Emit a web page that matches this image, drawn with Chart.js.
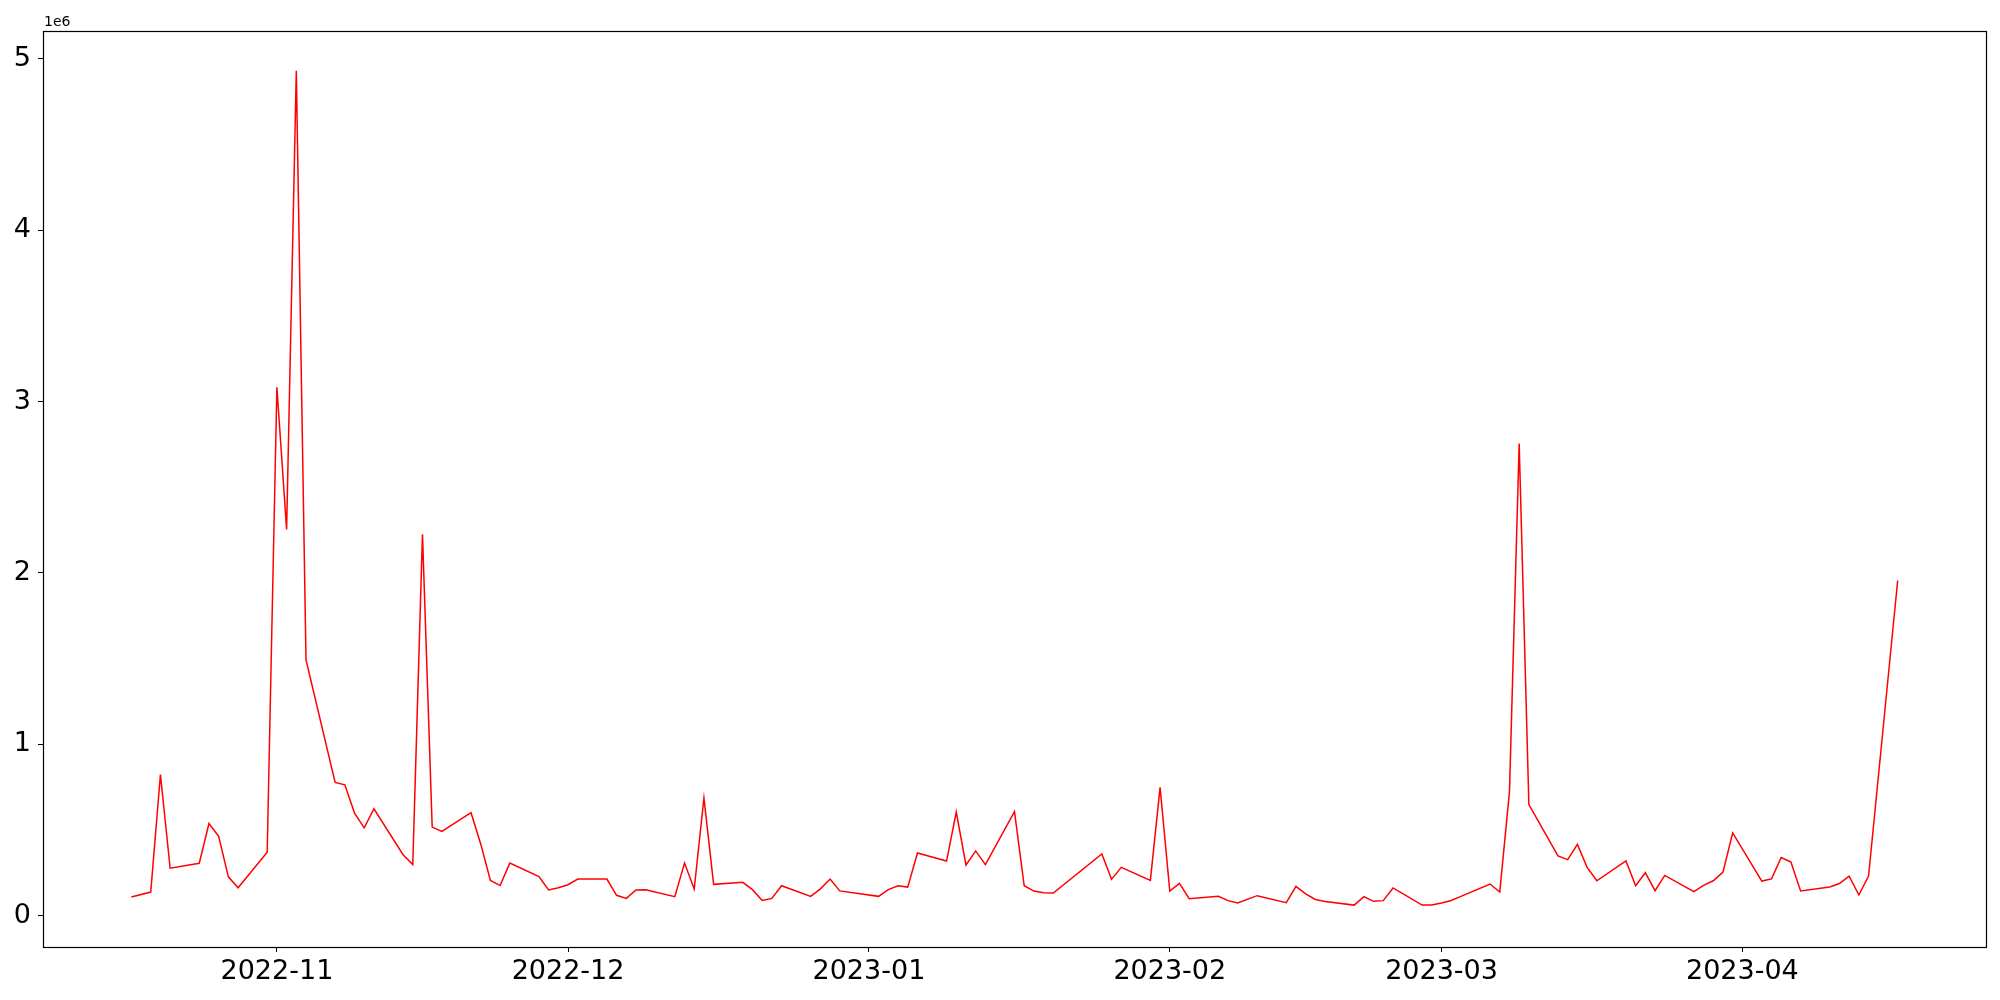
<!DOCTYPE html>
<html>
<head>
<meta charset="utf-8">
<script src="https://cdn.jsdelivr.net/npm/chart.js@4.4.0/dist/chart.umd.min.js"></script>
<style>
  body { margin: 0; background: #fff; }
</style>
</head>
<body>
<canvas id="myChart" width="2000" height="1000"></canvas>
<script>
// data (values in raw units)
const dates = [
  '2022-10-17','2022-10-19','2022-10-20','2022-10-21','2022-10-24','2022-10-25','2022-10-26','2022-10-27','2022-10-28','2022-10-31',
  '2022-11-01','2022-11-02','2022-11-03','2022-11-04','2022-11-07','2022-11-08','2022-11-09','2022-11-10','2022-11-11',
  '2022-11-14','2022-11-15','2022-11-16','2022-11-17','2022-11-18','2022-11-21','2022-11-22','2022-11-23','2022-11-24','2022-11-25',
  '2022-11-28','2022-11-29','2022-11-30','2022-12-01','2022-12-02','2022-12-05','2022-12-06','2022-12-07','2022-12-08','2022-12-09',
  '2022-12-12','2022-12-13','2022-12-14','2022-12-15','2022-12-16','2022-12-19','2022-12-20','2022-12-21','2022-12-22','2022-12-23',
  '2022-12-26','2022-12-27','2022-12-28','2022-12-29','2023-01-02','2023-01-03','2023-01-04','2023-01-05','2023-01-06',
  '2023-01-09','2023-01-10','2023-01-11','2023-01-12','2023-01-13','2023-01-16','2023-01-17','2023-01-18','2023-01-19','2023-01-20',
  '2023-01-25','2023-01-26','2023-01-27','2023-01-30','2023-01-31','2023-02-01','2023-02-02','2023-02-03',
  '2023-02-06','2023-02-07','2023-02-08','2023-02-10','2023-02-13','2023-02-14','2023-02-15','2023-02-16','2023-02-17',
  '2023-02-20','2023-02-21','2023-02-22','2023-02-23','2023-02-24','2023-02-27','2023-02-28','2023-03-01','2023-03-02','2023-03-03',
  '2023-03-06','2023-03-07','2023-03-08','2023-03-09','2023-03-10','2023-03-13','2023-03-14','2023-03-15','2023-03-16','2023-03-17',
  '2023-03-20','2023-03-21','2023-03-22','2023-03-23','2023-03-24','2023-03-27','2023-03-28','2023-03-29','2023-03-30','2023-03-31',
  '2023-04-03','2023-04-04','2023-04-05','2023-04-06','2023-04-07','2023-04-10','2023-04-11','2023-04-12','2023-04-13','2023-04-14',
  '2023-04-17'
];
const values = [
  109000, 138000, 824000, 277000, 306000, 538000, 463000, 227000, 163000, 370000,
  3083000, 2254000, 4930000, 1493000, 778000, 764000, 599000, 513000, 624000,
  356000, 299000, 2225000, 517000, 492000, 601000, 419000, 206000, 176000, 307000,
  228000, 150000, 163000, 181000, 214000, 214000, 119000, 101000, 150000, 152000,
  111000, 307000, 156000, 687000, 183000, 195000, 152000, 89000, 101000, 175000,
  113000, 157000, 214000, 145000, 113000, 152000, 175000, 167000, 366000,
  319000, 605000, 296000, 378000, 298000, 607000, 175000, 144000, 134000, 132000,
  360000, 212000, 282000, 206000, 749000, 144000, 189000, 99000,
  113000, 88000, 74000, 117000, 76000, 171000, 128000, 95000, 83000,
  62000, 111000, 84000, 88000, 162000, 62000, 62000, 74000, 89000, 113000,
  185000, 138000, 724000, 2755000, 648000, 349000, 327000, 416000, 282000, 204000,
  320000, 175000, 251000, 146000, 235000, 141000, 177000, 204000, 255000, 483000,
  202000, 215000, 340000, 313000, 144000, 168000, 188000, 231000, 121000, 231000,
  1956000
];
const monthTicks = ['2022-11-01','2022-12-01','2023-01-01','2023-02-01','2023-03-01','2023-04-01'];
const yTicks = [0, 1e6, 2e6, 3e6, 4e6, 5e6];

const dayOf = s => Date.parse(s + 'T00:00:00Z') / 86400000;
const points = dates.map((d, i) => ({x: dayOf(d), y: values[i]}));
const first = dayOf(dates[0]), last = dayOf(dates[dates.length - 1]);
const xPad = (last - first) * 0.05;

const frame = {
  id: 'frame',
  afterDraw(chart) {
    const a = chart.chartArea, c = chart.ctx;
    c.save();
    c.strokeStyle = '#000';
    c.lineWidth = 1.2;
    c.strokeRect(Math.round(a.left) + 0.5, Math.round(a.top) + 0.5, Math.round(a.right - a.left), Math.round(a.bottom - a.top));
    c.fillStyle = '#000';
    c.font = '14px "DejaVu Sans"';
    c.textBaseline = 'alphabetic';
    c.fillText('1e6', a.left + 1, 26);
    c.restore();
  }
};

Chart.defaults.font.family = '"DejaVu Sans"';
Chart.defaults.color = '#000';

let ctx = document.getElementById('myChart').getContext('2d');
let lineChart = new Chart(ctx, {
  type: 'line',
  data: {
    datasets: [{
      data: points,
      borderColor: 'red',
      borderWidth: 1.5,
      pointRadius: 0,
      tension: 0,
      fill: false
    }]
  },
  options: {
    responsive: false,
    animation: false,
    devicePixelRatio: 1,
    layout: { padding: { top: 31, right: 14, left: 0, bottom: 0 } },
    plugins: { legend: { display: false }, tooltip: { enabled: false } },
    scales: {
      x: {
        type: 'linear',
        min: first - xPad,
        max: last + xPad,
        afterBuildTicks: s => { s.ticks = monthTicks.map(m => ({value: dayOf(m)})); },
        afterFit: s => { s.height = 53; },
        ticks: {
          autoSkip: false,
          maxRotation: 0,
          padding: 4,
          font: { size: 27 },
          callback: v => new Date(v * 86400000).toISOString().slice(0, 7)
        },
        grid: { drawOnChartArea: false, drawTicks: true, tickLength: 5, tickColor: '#000' },
        border: { display: false }
      },
      y: {
        min: -182500,
        max: 5162000,
        afterBuildTicks: s => { s.ticks = yTicks.map(v => ({value: v})); },
        afterFit: s => { s.width = 43; },
        ticks: {
          padding: 7,
          font: { size: 27 },
          callback: v => String(v / 1e6)
        },
        grid: { drawOnChartArea: false, drawTicks: true, tickLength: 5, tickColor: '#000' },
        border: { display: false }
      }
    }
  },
  plugins: [frame]
});
</script>
</body>
</html>
